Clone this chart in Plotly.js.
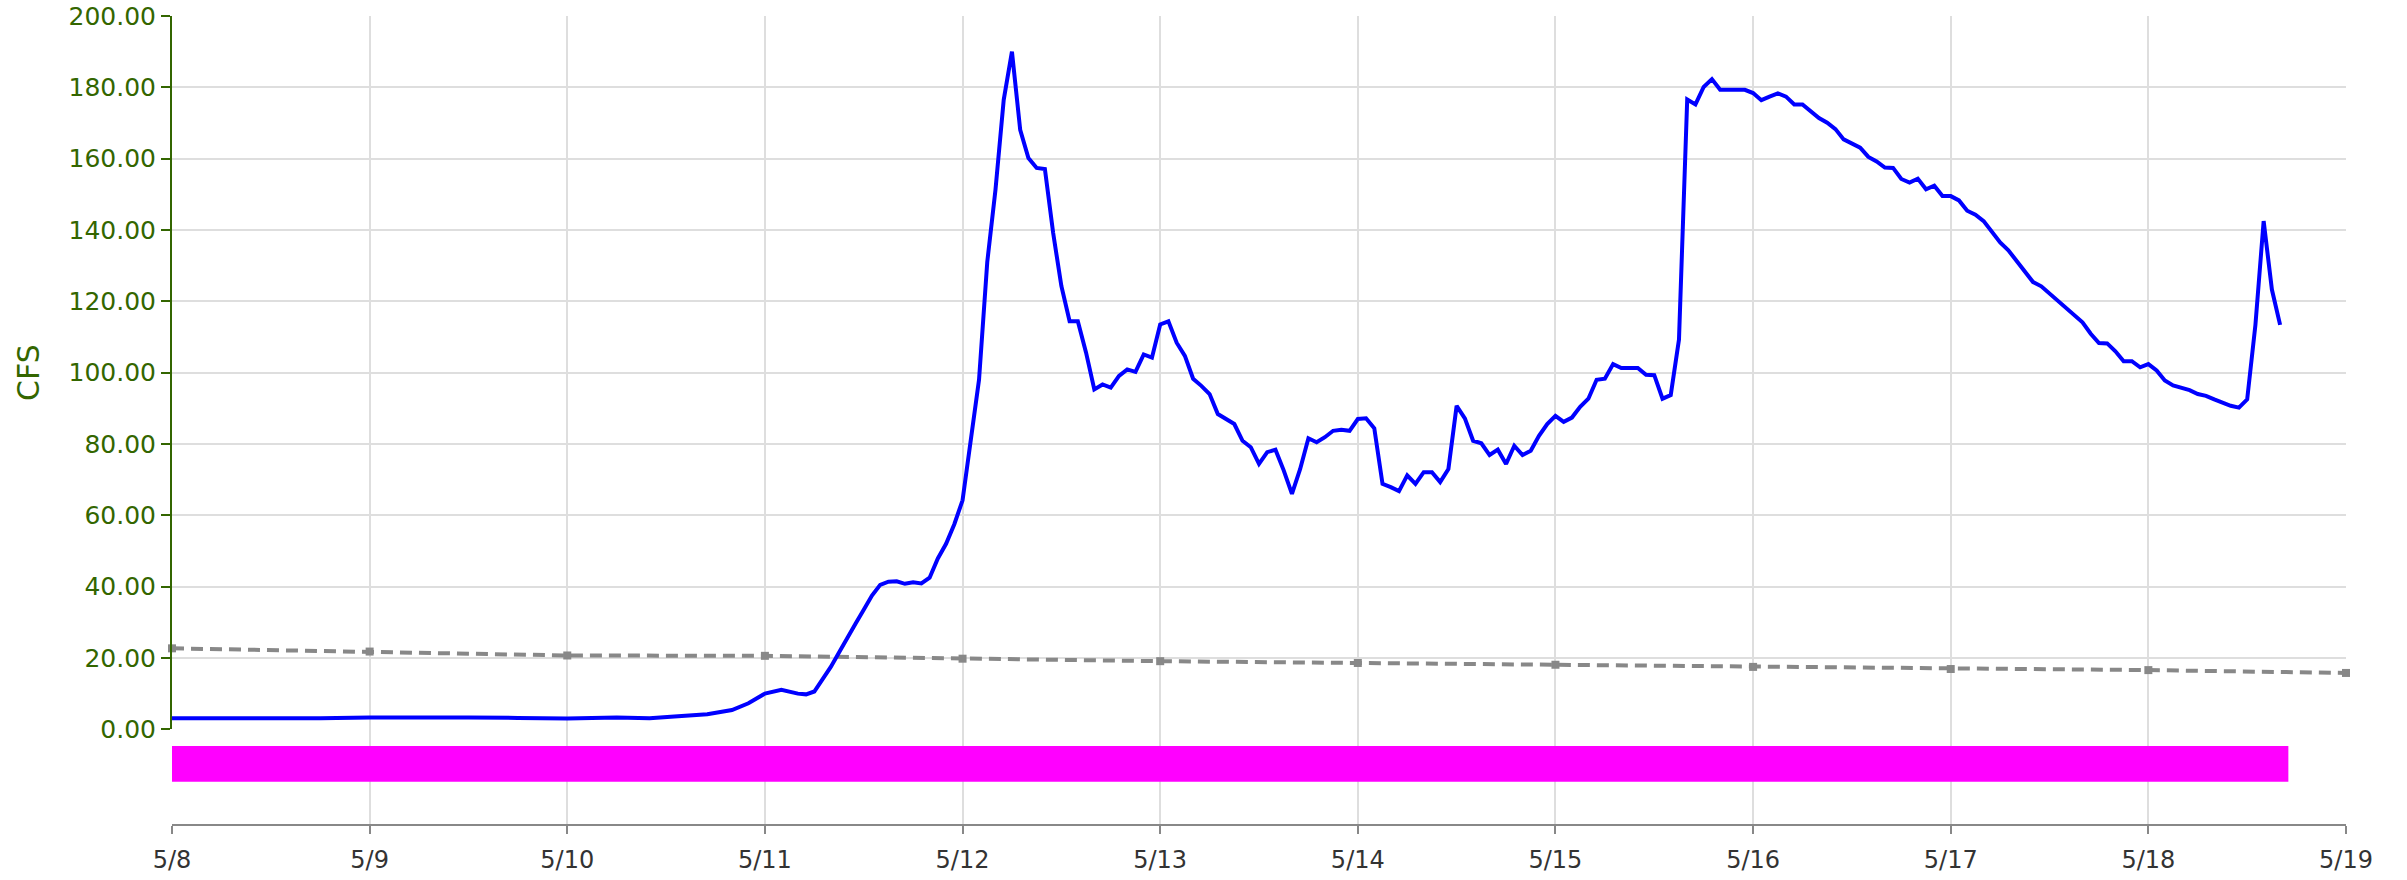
<!DOCTYPE html>
<html>
<head>
<meta charset="utf-8">
<script src="https://cdn.plot.ly/plotly-3.0.1.min.js"></script>
<style>
  html, body { margin: 0; padding: 0; background: #ffffff; }
  #chart { width: 2407px; height: 880px; }
</style>
</head>
<body>
<div id="chart"></div>
<script>
// ---------- data ----------
// hours since 5/8 00:00 for the measured flow series
const flowHours = [
  0, 6, 12, 18, 24, 30, 36, 42, 48, 54, 58, 61, 65, 68, 70, 72, 74, 76, 77, 78,
  79, 80, 81, 82, 83, 84, 85, 86, 87, 88, 89, 90, 91, 92, 93, 94, 95, 96, 97, 98,
  99, 100, 101, 102, 103, 104, 105, 106, 107, 108, 109, 110, 111, 112, 113, 114, 115, 116, 117, 118,
  119, 120, 121, 122, 123, 124, 125, 126, 127, 128, 129, 130, 131, 132, 133, 134, 135, 136, 137, 138,
  139, 140, 141, 142, 143, 144, 145, 146, 147, 148, 149, 150, 151, 152, 153, 154, 155, 156, 157, 158,
  159, 160, 161, 162, 163, 164, 165, 166, 167, 168, 169, 170, 171, 172, 173, 174, 175, 176, 177, 178,
  179, 180, 181, 182, 183, 184, 185, 186, 187, 188, 189, 190, 191, 192, 193, 194, 195, 196, 197, 198,
  199, 200, 201, 202, 203, 204, 205, 206, 207, 208, 209, 210, 211, 212, 213, 214, 215, 216, 217, 218,
  219, 220, 221, 222, 223, 224, 225, 226, 227, 228, 229, 230, 231, 232, 233, 234, 235, 236, 237, 238,
  239, 240, 241, 242, 243, 244, 245, 246, 247, 248, 249, 250, 251, 252, 253, 254, 255, 256
];
const flowCfs = [
  3.1, 3.1, 3.0, 3.1, 3.3, 3.4, 3.3, 3.2, 3.0, 3.3, 3.1, 3.6, 4.2, 5.4, 7.3, 10.0, 11.1, 10.0, 9.8, 10.6,
  14.0, 17.5, 21.5, 25.8, 29.6, 33.5, 37.5, 40.5, 41.4, 41.5, 40.8, 41.2, 40.9, 42.5, 47.9, 52.0, 57.5, 64.2, 81.0, 98.0,
  131.0, 151.3, 176.5, 190.0, 168.1, 160.2, 157.4, 157.1, 139.2, 124.3, 114.4, 114.4, 105.6, 95.3, 96.7, 95.8, 99.1, 100.9, 100.2, 105.1,
  104.2, 113.5, 114.4, 108.4, 104.7, 98.3, 96.3, 94.0, 88.4, 87.0, 85.6, 80.9, 79.1, 74.4, 77.7, 78.4, 72.6, 66.0, 73.0, 81.6,
  80.5, 81.9, 83.7, 84.0, 83.7, 87.0, 87.2, 84.4, 68.8, 67.9, 66.8, 71.2, 68.8, 72.1, 72.1, 69.3, 73.0, 90.7, 87.2, 80.9,
  80.2, 76.9, 78.4, 74.4, 79.5, 76.9, 78.1, 82.3, 85.6, 87.9, 86.2, 87.4, 90.4, 92.7, 98.0, 98.3, 102.4, 101.3, 101.3, 101.3,
  99.4, 99.3, 92.7, 93.7, 109.3, 176.6, 175.2, 180.1, 182.3, 179.3, 179.3, 179.3, 179.3, 178.4, 176.4, 177.4, 178.3, 177.4, 175.2, 175.2,
  173.4, 171.4, 170.1, 168.3, 165.4, 164.1, 163.1, 160.5, 159.2, 157.5, 157.4, 154.3, 153.3, 154.4, 151.4, 152.4, 149.5, 149.5, 148.3, 145.4,
  144.3, 142.5, 139.5, 136.5, 134.3, 131.3, 128.2, 125.4, 124.2, 122.2, 120.1, 118.1, 116.4, 114.1, 110.9, 108.3, 108.2, 106.0, 103.2, 103.2,
  101.5, 102.4, 100.6, 97.8, 96.4, 95.8, 95.1, 94.0, 93.5, 92.5, 91.7, 90.7, 90.2, 92.5, 113.4, 142.5, 123.3, 113.4
];

// daily reference (dashed) series
const refDates = ['2023-05-08', '2023-05-09', '2023-05-10', '2023-05-11', '2023-05-12', '2023-05-13',
                  '2023-05-14', '2023-05-15', '2023-05-16', '2023-05-17', '2023-05-18', '2023-05-19'];
const refCfs = [22.7, 21.8, 20.7, 20.6, 19.8, 19.1, 18.6, 18.1, 17.5, 16.9, 16.6, 15.8];

// x-axis ticks
const tickDates = refDates;
const tickLabels = ['5/8', '5/9', '5/10', '5/11', '5/12', '5/13', '5/14', '5/15', '5/16', '5/17', '5/18', '5/19'];

// magenta period bar
const barStart = '2023-05-08 00:00';
const barEnd = '2023-05-18 17:00';
const barLow = -14.7;
const barHigh = -4.7;

// y ticks
const yTicks = [0, 20, 40, 60, 80, 100, 120, 140, 160, 180, 200];

// ---------- helpers ----------
const startMs = Date.UTC(2023, 4, 8);
function hourToTime(h) {
  return new Date(startMs + h * 3600000).toISOString().slice(0, 16).replace('T', ' ');
}
const flowTimes = flowHours.map(hourToTime);

const green = '#336600';
const gridCol = '#dedede';
const font = 'DejaVu Sans, sans-serif';

const traces = [
  {
    x: [barStart, barEnd, barEnd, barStart, barStart],
    y: [barLow, barLow, barHigh, barHigh, barLow],
    xaxis: 'x', yaxis: 'y2',
    type: 'scatter', mode: 'lines',
    fill: 'toself', fillcolor: '#ff00ff',
    line: { width: 0, color: '#ff00ff' },
    hoverinfo: 'skip', showlegend: false
  },
  {
    x: refDates, y: refCfs,
    xaxis: 'x', yaxis: 'y',
    type: 'scatter', mode: 'lines+markers',
    line: { color: '#888888', width: 4, dash: '12px,7px' },
    marker: { symbol: 'square', size: 8, color: '#888888' },
    cliponaxis: false,
    hoverinfo: 'skip', showlegend: false
  },
  {
    x: flowTimes, y: flowCfs,
    xaxis: 'x', yaxis: 'y',
    type: 'scatter', mode: 'lines',
    line: { color: '#0000ff', width: 4 },
    hoverinfo: 'skip', showlegend: false
  }
];

const zeroFrac = 0.1172;

const layout = {
  width: 2407, height: 880,
  margin: { l: 172, r: 61, t: 16, b: 56, pad: 0 },
  paper_bgcolor: '#ffffff', plot_bgcolor: '#ffffff',
  showlegend: false,
  font: { family: font },
  xaxis: {
    type: 'date',
    anchor: 'y2',
    range: ['2023-05-08', '2023-05-19'],
    tickvals: tickDates, ticktext: tickLabels,
    tickfont: { family: font, size: 24, color: '#333333' },
    ticklabelstandoff: 5,
    showgrid: true, gridcolor: gridCol, gridwidth: 2,
    showline: true, linecolor: '#888888', linewidth: 2,
    ticks: 'outside', ticklen: 8, tickwidth: 2, tickcolor: '#888888',
    zeroline: false, fixedrange: true
  },
  yaxis: {
    domain: [zeroFrac, 1],
    anchor: 'x',
    range: [0, 200],
    tickvals: yTicks, tickformat: '.2f',
    tickfont: { family: font, size: 25, color: green },
    showgrid: true, gridcolor: gridCol, gridwidth: 2,
    showline: true, linecolor: green, linewidth: 2,
    ticks: 'outside', ticklen: 9, tickwidth: 2, tickcolor: green,
    zeroline: false, fixedrange: true,
    title: { text: 'CFS', font: { family: font, size: 30, color: green }, standoff: 20 }
  },
  yaxis2: {
    domain: [0, zeroFrac],
    anchor: 'x',
    range: [-26.5, 0],
    showgrid: false, showline: false, showticklabels: false,
    ticks: '', zeroline: false, fixedrange: true
  }
};

Plotly.newPlot('chart', traces, layout, { displayModeBar: false, staticPlot: true });
</script>
</body>
</html>
